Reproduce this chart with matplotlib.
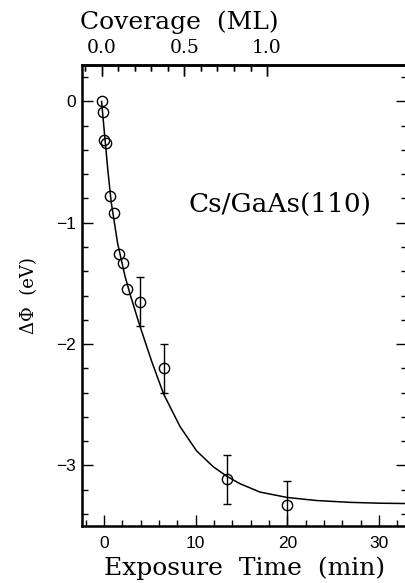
import numpy as np
import matplotlib
matplotlib.use("Agg")
import matplotlib.pyplot as plt
from matplotlib.ticker import MultipleLocator, FixedLocator, FormatStrFormatter

# measured points: exposure time (min) vs work function change (eV)
time_min = [-0.25, -0.10, -0.02, 0.23, 0.67, 1.10, 1.61, 2.10, 2.55, 3.90, 6.59, 13.39, 20.0]
delta_phi = [0.0, -0.09, -0.315, -0.34, -0.78, -0.92, -1.26, -1.33, -1.55, -1.65, -2.20, -3.115, -3.325]
# error bars only on the last four points
err_time = [3.90, 6.59, 13.39, 20.0]
err_phi = [-1.65, -2.20, -3.115, -3.325]
err_size = [0.2, 0.2, 0.2, 0.2]

# fitted curve
fit_time = [-0.25, 0.0, 0.45, 0.8, 1.5, 2.3, 2.9, 3.9, 5.2, 6.5, 8.3, 10.1, 11.9,
            13.4, 14.8, 17.0, 20.0, 23.2, 26.8, 30.0, 33.2]
fit_phi = [0.0, -0.21, -0.58, -0.83, -1.17, -1.44, -1.60, -1.845, -2.14, -2.41, -2.68,
           -2.88, -3.01, -3.09, -3.15, -3.22, -3.265, -3.29, -3.305, -3.312, -3.315]

# top axis: coverage (ML) against exposure time
cov_offset = -0.24   # min at zero coverage
min_per_ml = 18.03
cov_major = [0.0, 0.5, 1.0]
cov_minor = [-0.1, 0.1, 0.2, 0.3, 0.4, 0.6, 0.7, 0.8, 0.9]

def t2cov(t):
    return (np.asarray(t) - cov_offset) / min_per_ml

def cov2t(c):
    return np.asarray(c) * min_per_ml + cov_offset

W, H = 406, 583
fig = plt.figure(figsize=(W / 100, H / 100), dpi=100)
left, right, top, bottom = 82.5, 407.0, 65.0, 526.0
ax = fig.add_axes([left / W, 1 - bottom / H, (right - left) / W, (bottom - top) / H])

xmin, xmax = -2.33, 33.05
ax.set_xlim(xmin, xmax)
ax.set_ylim(-3.5, 0.3)

ax.plot(fit_time, fit_phi, color="black", lw=1.1, zorder=2)
ax.plot(time_min, delta_phi, "o", ms=7.4, mfc="none", mec="black", mew=1.0, zorder=3)
ax.errorbar(err_time, err_phi, yerr=err_size, fmt="none", ecolor="black",
            elinewidth=1.0, capsize=3, capthick=1.0, zorder=3)

ax.xaxis.set_major_locator(FixedLocator([0, 10, 20, 30]))
ax.xaxis.set_minor_locator(MultipleLocator(2))
ax.yaxis.set_major_locator(MultipleLocator(1))
ax.yaxis.set_minor_locator(MultipleLocator(0.2))

for s in ax.spines.values():
    s.set_linewidth(1.8)

ax.tick_params(which="both", direction="in", top=False, right=True, width=1.0)
ax.tick_params(which="major", length=8)
ax.tick_params(which="minor", length=4.3)
ax.tick_params(axis="x", which="major", pad=7)
ax.tick_params(axis="y", which="major", pad=5)
for lab in ax.get_xticklabels() + ax.get_yticklabels():
    lab.set_family("Liberation Sans")
    lab.set_fontsize(12.5)

ax.set_xlabel("Exposure  Time  (min)", family="DejaVu Serif", fontsize=18, labelpad=4)
ax.set_ylabel("ΔΦ  (eV)", family="DejaVu Serif", fontsize=13, labelpad=13)

ax.text(0.61, 0.698, "Cs/GaAs(110)", transform=ax.transAxes, family="DejaVu Serif",
        fontsize=19, ha="center", va="center")

# coverage axis on top
top_ax = ax.twiny()
top_ax.set_zorder(ax.get_zorder() + 1)
top_ax.set_xlim(t2cov(xmin), t2cov(xmax))
top_ax.xaxis.set_major_locator(FixedLocator(cov_major))
top_ax.xaxis.set_minor_locator(FixedLocator(cov_minor))
top_ax.xaxis.set_major_formatter(FormatStrFormatter("%.1f"))
top_ax.tick_params(axis="x", which="both", direction="in", width=1.0,
                   top=True, bottom=False, labeltop=True, labelbottom=False)
top_ax.tick_params(axis="x", which="major", length=8, pad=6, labelsize=13.5)
top_ax.tick_params(axis="x", which="minor", length=4.3)
top_ax.spines["top"].set_linewidth(1.8)
for lab in top_ax.get_xticklabels():
    lab.set_family("DejaVu Serif")
top_ax.set_xlabel("Coverage  (ML)", family="DejaVu Serif", fontsize=18)
top_ax.xaxis.set_label_coords(0.298, 1.078)

# inward coverage ticks drawn on the main axes as well, so they show for sure
ax_h_px = bottom - top
major_len = 8 / 72 * 100 / ax_h_px
minor_len = 4.3 / 72 * 100 / ax_h_px
xtr = ax.get_xaxis_transform()
ax.vlines(cov2t(cov_major), 1 - major_len, 1, transform=xtr, color="black",
          lw=1.0, clip_on=False, zorder=5)
ax.vlines(cov2t(cov_minor), 1 - minor_len, 1, transform=xtr, color="black",
          lw=1.0, clip_on=False, zorder=5)

fig.savefig("out.png", dpi=100)
